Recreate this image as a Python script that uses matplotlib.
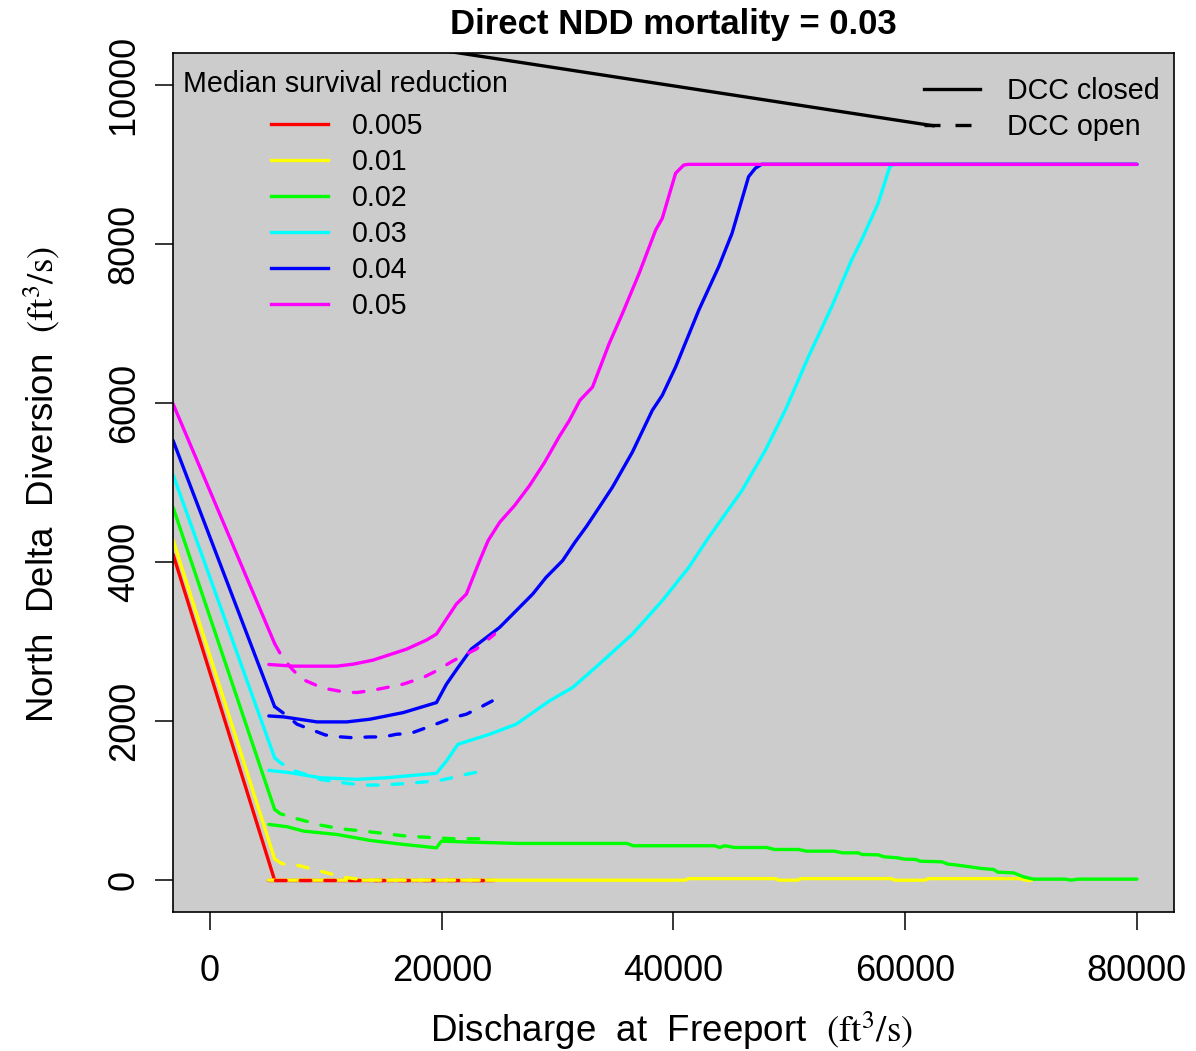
import matplotlib
matplotlib.use('Agg')
import matplotlib.pyplot as plt
from matplotlib.lines import Line2D

plt.rcParams['font.family'] = ['Liberation Sans', 'DejaVu Sans']
plt.rcParams['mathtext.fontset'] = 'stix'

# ---------------- data ----------------
series_labels = ['0.005', '0.01', '0.02', '0.03', '0.04', '0.05']
series_colors = ['#ff0000', '#ffff00', '#00ff00', '#00ffff', '#0000ff', '#ff00ff']

# steep descending segments (left edge -> kink)
desc_x = [-3200, 5570]
desc_left = [4100, 4280, 4690, 5100, 5530, 5990]
desc_right = [0, 268, 890, 1540, 2183, 2976]

# DCC closed (solid)
closed_x_red = [5040, 24500]
closed_y_red = [0, 0]
closed_x_yellow = [5040, 41000, 41300, 48800, 49100, 50700, 51000, 58800, 59100,
                   61700, 62000, 69900, 70400, 70900]
closed_y_yellow = [0, 0, 20, 20, 0, 0, 20, 20, 0, 0, 20, 20, 0, -5]
closed_x_green = [5070, 6650, 8070, 10950, 13810, 16670, 19540, 19970, 22410, 26710,
                  30150, 35990, 36510, 43560, 44000, 44400, 45290, 48040, 48730, 50790,
                  51470, 53880, 54570, 55940, 56290, 57650, 58180, 59370, 59900, 60920,
                  61280, 63160, 63690, 64530, 65580, 66590, 67640, 67990, 69360, 70220,
                  71080, 73830, 74350, 74860, 80000]
closed_y_green = [701, 672, 617, 575, 500, 450, 407, 491, 479, 462,
                  462, 462, 433, 433, 411, 433, 411, 411, 386, 386,
                  365, 365, 344, 344, 323, 319, 294, 281, 265, 260,
                  239, 231, 202, 189, 168, 147, 134, 101, 92, 42,
                  13, 13, 0, 13, 13]
closed_x_cyan = [5070, 6930, 9510, 12660, 15250, 19540, 20400, 21400, 24130, 26420,
                 29290, 31290, 33590, 36450, 39030, 41320, 43040, 45910, 47920, 49640,
                 51640, 53650, 55370, 56230, 57660, 58670, 59000, 80000]
closed_y_cyan = [1381, 1351, 1288, 1268, 1288, 1344, 1499, 1709, 1835, 1961,
                 2254, 2422, 2716, 3094, 3514, 3933, 4311, 4899, 5403, 5907,
                 6578, 7208, 7796, 8048, 8510, 8971, 9000, 9000]
closed_x_blue = [5070, 6360, 9230, 11800, 13810, 16670, 19540, 20400, 21400, 22550,
                 24990, 26420, 27850, 29000, 30430, 31500, 32500, 33590, 34730, 36450,
                 38170, 39030, 40180, 42180, 43900, 45050, 46480, 47060, 47600, 80000]
closed_y_blue = [2065, 2053, 1990, 1990, 2024, 2107, 2233, 2464, 2674, 2906,
                 3178, 3388, 3598, 3807, 4018, 4250, 4450, 4689, 4941, 5382,
                 5907, 6096, 6452, 7166, 7712, 8132, 8845, 8951, 9000, 9000]
closed_x_magenta = [5070, 7215, 10945, 12350, 14070, 16960, 18680, 19540, 21260, 22125,
                    23270, 24000, 25000, 26280, 27570, 28860, 30150, 31010, 31920, 33010,
                    34450, 35590, 37030, 38460, 39030, 40180, 40890, 41300, 80000]
closed_y_magenta = [2712, 2691, 2691, 2716, 2767, 2905, 3019, 3094, 3472, 3598,
                    4018, 4270, 4500, 4710, 4960, 5250, 5580, 5780, 6033, 6200,
                    6747, 7124, 7628, 8174, 8321, 8888, 8992, 9000, 9000]

# DCC open (dashed)
open_x_red = [5570, 24500]
open_y_red = [0, 0]
open_x_yellow = [5570, 6070, 6500, 7505, 8650, 10090, 11375, 12375, 13520, 24500]
open_y_yellow = [268, 218, 197, 189, 147, 92, 38, 21, 0, 0]
open_x_green = [5570, 6070, 7360, 8500, 9510, 10800, 11800, 12660, 14520, 15670,
                16960, 18390, 19540, 20970, 23560]
open_y_green = [890, 835, 777, 734, 693, 659, 638, 626, 596, 575,
                554, 542, 533, 521, 521]
open_x_cyan = [5570, 6070, 7110, 8240, 9510, 10800, 12090, 13230, 14670, 16670,
               18390, 19540, 20690, 22125, 23400]
open_y_cyan = [1540, 1477, 1382, 1331, 1268, 1238, 1213, 1196, 1196, 1213,
               1234, 1247, 1281, 1331, 1370]
open_x_blue = [5570, 6650, 7505, 8650, 9940, 10945, 12235, 13810, 14950, 16100,
               17250, 18680, 19830, 20970, 22125, 23270, 24360]
open_y_blue = [2183, 2065, 1961, 1898, 1826, 1805, 1792, 1801, 1801, 1835,
               1843, 1918, 1981, 2044, 2087, 2170, 2254]
open_x_magenta = [5570, 6160, 7075, 7935, 9080, 10225, 11510, 12660, 14090, 15530,
                  16670, 18390, 19540, 20970, 22980, 24560]
open_y_magenta = [2976, 2821, 2654, 2528, 2456, 2402, 2368, 2359, 2389, 2431,
                  2465, 2548, 2632, 2758, 2906, 3094]

# stray black line from the top edge
stray_x = [19000, 62480]
stray_y = [10456, 9484]

x_ticks = [0, 20000, 40000, 60000, 80000]
y_ticks = [0, 2000, 4000, 6000, 8000, 10000]
x_tick_labels = ['0', '20000', '40000', '60000', '80000']
y_tick_labels = ['0', '2000', '4000', '6000', '8000', '10000']

# ---------------- figure ----------------
W, H = 1196, 1051
fig = plt.figure(figsize=(W / 100, H / 100), dpi=100)
ax = fig.add_axes([173 / W, 1 - 912 / H, (1174 - 173) / W, (912 - 53) / H])
ax.set_facecolor('#cccccc')
ax.set_xlim(-3200, 83200)
ax.set_ylim(-400, 10400)

LW = 2.4
DASH = (3.2, 4.2)

closed_x = [closed_x_red, closed_x_yellow, closed_x_green, closed_x_cyan, closed_x_blue, closed_x_magenta]
closed_y = [closed_y_red, closed_y_yellow, closed_y_green, closed_y_cyan, closed_y_blue, closed_y_magenta]
open_x = [open_x_red, open_x_yellow, open_x_green, open_x_cyan, open_x_blue, open_x_magenta]
open_y = [open_y_red, open_y_yellow, open_y_green, open_y_cyan, open_y_blue, open_y_magenta]

for c, yl, yr in zip(series_colors, desc_left, desc_right):
    ax.plot(desc_x, [yl, yr], color=c, lw=LW, solid_capstyle='round')
for c, xs, ys in zip(series_colors, closed_x, closed_y):
    ax.plot(xs, ys, color=c, lw=LW, solid_capstyle='round', solid_joinstyle='round')
for c, xs, ys in zip(series_colors, open_x, open_y):
    ax.plot(xs, ys, color=c, lw=LW, dashes=DASH, dash_capstyle='round', dash_joinstyle='round')

ax.plot(stray_x, stray_y, color='black', lw=LW, solid_capstyle='round')

for s in ax.spines.values():
    s.set_linewidth(1.2)
ax.set_xticks(x_ticks)
ax.set_xticklabels(x_tick_labels)
ax.set_yticks(y_ticks)
ax.set_yticklabels(y_tick_labels, rotation=90, va='center')
ax.tick_params(axis='both', direction='out', length=13, width=1.1, labelsize=26)
ax.tick_params(axis='x', pad=17)
ax.tick_params(axis='y', pad=9.5)

# legends
fig.text(183 / W, 1 - 92 / H, 'Median survival reduction', ha='left', va='baseline',
         fontsize=20.6)
h1 = [Line2D([], [], color=c, lw=LW) for c in series_colors]
leg1 = ax.legend(h1, series_labels, loc='upper left',
                 bbox_to_anchor=(271 / W, 1 - 112 / H), bbox_transform=fig.transFigure,
                 frameon=False, fontsize=20.6, handlelength=2.0,
                 handletextpad=0.84, labelspacing=0.28, borderpad=0, borderaxespad=0)
ax.add_artist(leg1)
h2 = [Line2D([], [], color='black', lw=LW),
      Line2D([], [], color='black', lw=LW, dashes=(4.8, 4.5), dash_capstyle='butt')]
ax.legend(h2, ['DCC closed', 'DCC open'], loc='upper right',
          bbox_to_anchor=(1160 / W, 1 - 77 / H), bbox_transform=fig.transFigure,
          frameon=False, fontsize=20.6, handlelength=1.96, handletextpad=0.95,
          labelspacing=0.28, borderpad=0, borderaxespad=0)

fig.text(673 / W, 1 - 34 / H, 'Direct NDD mortality = 0.03', ha='center', va='baseline',
         fontsize=25, fontweight='bold')
fig.text(671 / W, 1 - 1042 / H,
         'Discharge  at  Freeport  ' + r'$\left(\mathrm{ft}^{3}/\mathrm{s}\right)$',
         ha='center', va='baseline', fontsize=26.5)
fig.text(53 / W, 1 - 485 / H,
         'North  Delta  Diversion  ' + r'$\left(\mathrm{ft}^{3}/\mathrm{s}\right)$',
         ha='center', va='baseline', rotation=90, rotation_mode='anchor', fontsize=26.5)

fig.savefig('out.png', dpi=100, facecolor='white')
